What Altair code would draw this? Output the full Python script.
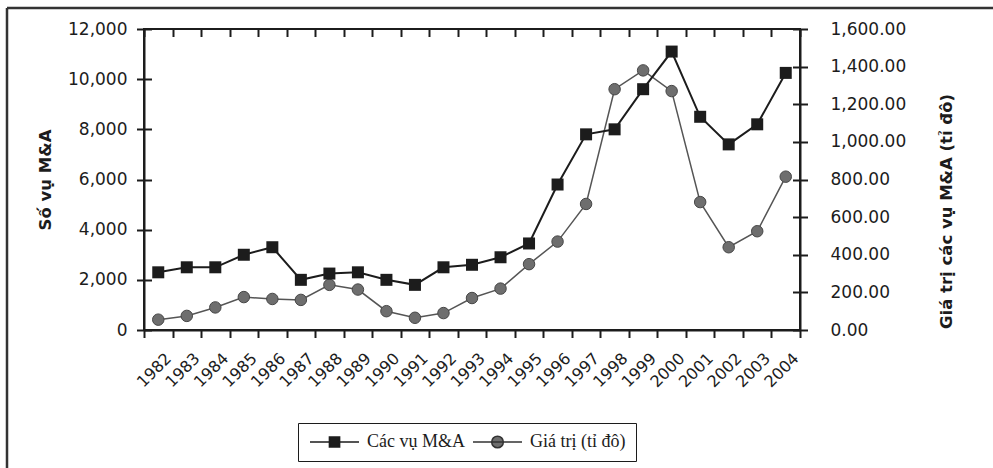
import altair as alt
import pandas as pd

# Annual mergers & acquisitions: number of deals (left axis) and deal value (right axis)
years = ["1982", "1983", "1984", "1985", "1986", "1987", "1988", "1989", "1990",
         "1991", "1992", "1993", "1994", "1995", "1996", "1997", "1998", "1999",
         "2000", "2001", "2002", "2003", "2004"]
deals = [2300, 2500, 2500, 3000, 3300, 2000, 2250, 2300, 2000, 1800, 2500, 2600,
         2900, 3450, 5800, 7800, 8000, 9600, 11100, 8500, 7400, 8200, 10250]
values = [55, 75, 120, 175, 165, 160, 240, 215, 100, 65, 90, 170,
          220, 350, 470, 670, 1280, 1380, 1270, 680, 440, 525, 815]
series_names = ["Các vụ M&A", "Giá trị (tỉ đô)"]
left_ticks = [0, 2000, 4000, 6000, 8000, 10000, 12000]
right_ticks = [0, 200, 400, 600, 800, 1000, 1200, 1400, 1600]

INK = "#1c1c1c"
GREY_FILL = "#6e6e6e"
GREY_EDGE = "#474747"
GREY_LINE = "#555555"
TICK_FONT = "DejaVu Sans"
TITLE_FONT = "DejaVu Sans"

df = pd.DataFrame({"year": years, "deals": deals, "value": values})
base = alt.Chart(df)

# ticks that cross the axis line: outward tick + short inward grid dash
common_axis = dict(tickSize=7.5, tickWidth=2, tickColor=INK,
                   domainColor=INK, domainWidth=2,
                   grid=True, gridDash=[7.5, 2000], gridColor=INK, gridWidth=2,
                   labelColor=INK, labelFont=TICK_FONT)

x_enc = alt.X(
    "year:N", sort=None,
    scale=alt.Scale(paddingInner=0, paddingOuter=0),
    axis=alt.Axis(title=None, orient="bottom", tickBand="extent",
                  labelAngle=315, labelAlign="right", labelBaseline="middle",
                  labelOffset=10, labelPadding=18, labelFontSize=16,
                  labelOverlap=False, labelBound=False, **common_axis),
)

y_left = alt.Y(
    "deals:Q",
    scale=alt.Scale(domain=[0, 12000], nice=False, zero=True),
    axis=alt.Axis(orient="left", values=left_ticks, format=",d",
                  labelFontSize=17, labelPadding=9.5,
                  title="Số vụ M&A", titleFont=TITLE_FONT, titleFontSize=16.5,
                  titleFontWeight="bold", titleColor=INK, titleAngle=270,
                  titleAlign="center", titleBaseline="middle",
                  titleX=-99, titleY=150.5, **common_axis),
)

y_right = alt.Y(
    "value:Q",
    scale=alt.Scale(domain=[0, 1600], nice=False, zero=True),
    axis=alt.Axis(orient="right", values=right_ticks, format=",.2f",
                  labelFontSize=17, labelPadding=22.5,
                  title="Giá trị các vụ M&A (tỉ đô)", titleFont=TITLE_FONT,
                  titleFontSize=16.5, titleFontWeight="bold", titleColor=INK,
                  titleAngle=270, titleAlign="center", titleBaseline="middle",
                  titleX=146, titleY=182, **common_axis),
)

value_layer = alt.layer(
    base.mark_line(color=GREY_LINE, strokeWidth=1.5).encode(x=x_enc, y=y_right),
    base.mark_point(shape="circle", filled=True, size=132, fill=GREY_FILL,
                    stroke=GREY_EDGE, strokeWidth=1, opacity=1).encode(x=x_enc, y=y_right),
)

deals_layer = alt.layer(
    base.mark_line(color=INK, strokeWidth=2).encode(x=x_enc, y=y_left),
    base.mark_point(shape="square", filled=True, size=144, color=INK,
                    opacity=1).encode(x=x_enc, y=y_left),
)

# legend: line-with-marker symbols as custom paths (unit = half the symbol box)
shape_paths = [
    "M-1.17,0H7M2.07,-0.85H3.77V0.85H2.07Z",
    "M-1.17,0H7M3.89,0A0.97,0.97,0,1,1,1.95,0A0.97,0.97,0,1,1,3.89,0Z",
]
leg = alt.Legend(title=None, orient="none", legendX=154, legendY=394,
                 direction="horizontal", strokeColor=INK, padding=10,
                 labelFont="Liberation Serif", labelFontSize=18, labelColor=INK,
                 labelOffset=41, columnPadding=4, symbolSize=144,
                 symbolStrokeWidth=1.5)
legend_df = pd.DataFrame({"series": series_names})
legend_layer = alt.Chart(legend_df).mark_point(filled=True, opacity=1).encode(
    shape=alt.Shape("series:N", scale=alt.Scale(domain=series_names, range=shape_paths), legend=leg),
    fill=alt.Fill("series:N", scale=alt.Scale(domain=series_names, range=[INK, GREY_FILL]), legend=leg),
    stroke=alt.Stroke("series:N", scale=alt.Scale(domain=series_names, range=[INK, "#333333"]), legend=leg),
).transform_filter("false")

# outer frame (top and left edges)
one = alt.Chart(pd.DataFrame({"k": [0]}))
frame_top = one.mark_rule(color="#333333", strokeWidth=2.5).encode(
    x=alt.value(-137), x2=alt.value(860), y=alt.value(-21))
frame_left = one.mark_rule(color="#333333", strokeWidth=2.5).encode(
    x=alt.value(-137), y=alt.value(-21), y2=alt.value(450))

chart = alt.layer(
    frame_top, frame_left, value_layer, deals_layer, legend_layer
).resolve_scale(
    y="independent"
).properties(
    width=656, height=301,
    autosize=alt.AutoSizeParams(type="none"),
    padding={"left": 144, "top": 29, "right": 193, "bottom": 138},
    background="white",
).configure_view(stroke=INK, strokeWidth=2)

chart.save("out.html", embed_options={"renderer": "svg", "actions": False})
